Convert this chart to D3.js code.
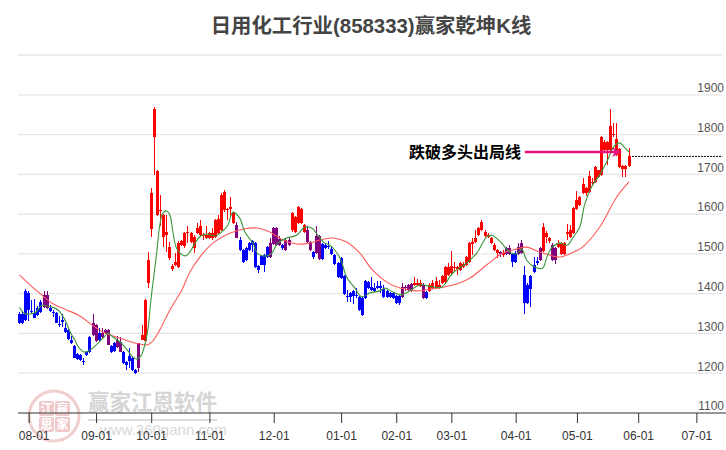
<!DOCTYPE html>
<html lang="zh">
<head>
<meta charset="utf-8">
<title>日用化工行业(858333)赢家乾坤K线</title>
<script src="https://cdnjs.cloudflare.com/ajax/libs/d3/7.8.5/d3.min.js"></script>
<style>
html, body { margin: 0; padding: 0; background: #fff; }
svg { display: block; }
text { font-family: "Liberation Sans", "Noto Sans CJK SC", sans-serif; }
</style>
</head>
<body>
<div id="chart"></div>
<script>
// r = up, b = down, p = purple (flagged) candles
const kind = ("bbbbbbbb" + "pp" + "bbbbbbbbbbbbbb" + "pp" + "b" + "ppp" + "bb" + "pp" + "bbbbb" + "p"
  + "rrrrrrrrrrrrrrrrrrrrrrrrrrrrrrr" + "p" + "bbbbbbbbbb" + "pppp" + "b" + "pp"
  + "rrrrr" + "pp" + "b" + "pp" + "bbbbbbbbbbbbbbbbbbbbbbbbbb" + "pppp" + "rrr" + "p" + "b"
  + "rrrrrrrrrrrrrrrrrrrrrrr" + "p" + "r" + "pp" + "bb" + "pp" + "bbbbb" + "p" + "rrr" + "pp"
  + "rrrrrrrrrrrrrrrrrrrrrrrr").split("");
const bodyTop = [1349,1349,1407,1402,1356,1351,1364,1379,1397,1397,1364,1354,1351,1324,1334,1314,1309,1283,1268,1248,1246,1231,1253,1291,1326,1321,1301,1301,1309,1309,
  1268,1276,1283,1278,1253,1228,1243,1238,1208,1276,1296,1384,1484,1653,1864,1708,1610,1598,1555,1517,1469,1479,1527,1532,1552,1555,1552,1542,1565,1570,
  1547,1547,1552,1552,1585,1587,1648,1655,1613,1618,1603,1572,1535,1510,1515,1527,1532,1527,1469,1495,1497,1517,1527,1565,1565,1537,1522,1535,1535,1603,
  1593,1618,1613,1572,1560,1530,1505,1545,1545,1525,1522,1520,1512,1497,1477,1490,1444,1394,1402,1407,1397,1392,1389,1432,1429,1417,1414,1419,1419,1412,
  1407,1402,1402,1394,1394,1417,1417,1422,1424,1427,1427,1427,1422,1404,1422,1427,1432,1422,1444,1467,1467,1469,1467,1467,1477,1474,1492,1527,1530,1540,
  1565,1580,1555,1547,1540,1522,1510,1505,1502,1515,1515,1500,1502,1517,1527,1447,1422,1444,1472,1482,1515,1567,1552,1540,1522,1515,1527,1527,1527,1555,
  1560,1615,1635,1643,1675,1665,1695,1680,1718,1711,1794,1781,1781,1821,1801,1789,1763,1721,1721,1746];
const bodyBottom = [1326,1326,1334,1359,1354,1339,1346,1354,1366,1364,1356,1351,1326,1321,1329,1304,1286,1276,1238,1236,1233,1228,1246,1253,1296,1281,1283,1291,1301,1271,
  1253,1256,1266,1253,1226,1221,1231,1208,1201,1213,1283,1281,1427,1562,1794,1598,1608,1542,1547,1490,1462,1472,1467,1522,1520,1552,1530,1515,1552,1547,
  1545,1540,1540,1540,1542,1552,1560,1610,1610,1613,1577,1540,1510,1479,1484,1510,1522,1467,1459,1472,1472,1492,1492,1525,1522,1522,1515,1510,1522,1560,
  1555,1577,1577,1555,1530,1510,1492,1502,1487,1487,1515,1517,1500,1474,1442,1439,1399,1392,1392,1394,1394,1359,1346,1389,1414,1409,1407,1414,1414,1392,
  1392,1392,1389,1376,1376,1392,1414,1409,1407,1422,1422,1419,1389,1389,1407,1414,1414,1414,1427,1429,1447,1452,1464,1462,1459,1467,1472,1479,1525,1530,
  1547,1560,1545,1542,1527,1510,1502,1500,1497,1500,1500,1479,1479,1500,1502,1376,1376,1412,1454,1477,1484,1507,1542,1532,1484,1484,1517,1500,1500,1550,
  1542,1552,1613,1623,1653,1653,1655,1677,1680,1693,1698,1761,1761,1761,1799,1748,1718,1713,1713,1721];
const wickHigh = [1354,1354,1412,1407,1384,1386,1369,1384,1407,1407,1371,1359,1354,1344,1349,1326,1311,1294,1271,1251,1248,1238,1256,1294,1349,1324,1314,1314,1311,1311,
  1271,1278,1294,1291,1256,1231,1263,1241,1211,1276,1321,1386,1505,1665,1869,1711,1648,1600,1598,1530,1474,1502,1532,1535,1555,1570,1555,1547,1577,1585,
  1552,1570,1555,1565,1588,1598,1653,1660,1615,1643,1605,1580,1542,1512,1517,1530,1535,1530,1472,1497,1500,1520,1540,1567,1567,1545,1525,1540,1540,1605,
  1595,1620,1615,1575,1570,1532,1507,1570,1547,1527,1527,1532,1517,1500,1479,1492,1447,1409,1404,1409,1414,1394,1391,1434,1432,1442,1427,1432,1432,1422,
  1409,1404,1404,1397,1397,1427,1422,1424,1427,1442,1437,1434,1427,1407,1427,1434,1442,1434,1447,1469,1477,1507,1479,1469,1479,1479,1495,1530,1540,1560,
  1567,1585,1560,1552,1542,1527,1512,1507,1510,1517,1522,1502,1507,1527,1535,1469,1427,1447,1492,1492,1517,1577,1557,1542,1527,1517,1535,1530,1530,1575,
  1572,1618,1658,1645,1690,1667,1708,1690,1720,1711,1796,1786,1783,1864,1829,1829,1766,1723,1723,1766];
const wickLow = [1324,1324,1331,1331,1351,1339,1344,1351,1364,1361,1354,1341,1326,1316,1316,1301,1283,1273,1238,1233,1231,1221,1243,1251,1294,1278,1281,1288,1299,1271,
  1251,1253,1263,1253,1223,1208,1213,1206,1198,1203,1283,1278,1414,1542,1698,1595,1570,1517,1505,1484,1457,1469,1464,1520,1515,1527,1527,1502,1550,1545,
  1535,1537,1537,1535,1540,1550,1557,1605,1585,1593,1575,1540,1507,1477,1482,1507,1505,1464,1452,1472,1454,1490,1490,1522,1520,1520,1510,1507,1520,1555,
  1552,1575,1575,1552,1527,1507,1487,1500,1485,1485,1512,1512,1497,1472,1440,1437,1397,1379,1379,1374,1389,1356,1344,1387,1412,1407,1404,1412,1402,1389,
  1389,1389,1387,1374,1371,1389,1407,1407,1404,1419,1419,1417,1387,1387,1404,1412,1412,1412,1424,1427,1444,1447,1454,1447,1457,1464,1469,1477,1497,1527,
  1545,1557,1542,1540,1525,1507,1490,1492,1492,1497,1497,1467,1477,1497,1500,1349,1374,1366,1452,1472,1482,1505,1527,1527,1482,1474,1515,1497,1497,1535,
  1540,1550,1610,1620,1650,1645,1653,1673,1677,1690,1695,1758,1723,1758,1794,1745,1715,1693,1693,1718];

// fast and slow average lines, read at sparse bars
const greenBar = [0,1.5,3.4,5.4,7.3,9,10.6,12.6,13.9,15.2,16.5,18.1,19.7,21.4,23,25.3,27.6,28.9,30.5,32.1,33.8,35.4,37,38.3,39.6,40.9,41.9,42.9,43.9,44.9,45.8,46.8,48.1,49.1,50.1,51.1,52.4,54.3,55.6,57.3,59.2,61.2,63.8,66,68,69.7,71.9,73.6,76.2,77.8,80.8,82.4,84.3,87.3,90.5,93.1,95.4,97.4,99.6,101.3,104.6,106.8,109.5,111.7,114.4,117.6,119.3,121.9,124.2,126.8,130.7,134.9,137.9,141.5,146,149.3,152.5,154.2,156.8,160,162.3,164,165.6,168.2,170.8,172.1,173.7,176.3,179,180.6,182.9,184.5,187.1,189.4,192,194.2,195.9,197.5,199];
const greenVal = [1366,1351,1349,1354,1371,1369,1366,1359,1346,1329,1304,1283,1261,1253,1258,1273,1291,1301,1291,1283,1271,1256,1241,1236,1243,1271,1309,1384,1447,1510,1572,1603,1608,1598,1555,1517,1502,1495,1505,1527,1545,1550,1545,1555,1572,1605,1590,1555,1527,1500,1495,1502,1527,1540,1547,1567,1565,1547,1527,1522,1490,1442,1414,1392,1402,1407,1414,1404,1397,1404,1422,1417,1417,1452,1477,1502,1542,1547,1532,1505,1500,1512,1484,1467,1464,1490,1515,1527,1522,1540,1567,1623,1673,1698,1736,1771,1779,1768,1756];
const redBar = [0,3.4,7.7,10.6,14.8,19.7,23.7,27.9,32.8,37.7,41.6,43.2,45.8,49.1,53,55.6,58.9,63.1,68.7,72.9,77.5,81.7,86,90.5,94.8,98.1,102.3,106.8,111.1,115.3,119.9,124.2,129.7,134.9,141.5,147,152.5,157.8,162.3,165.6,169.8,176.3,179.6,183.8,189.4,195,199];
const redVal = [1447,1422,1394,1376,1361,1344,1321,1301,1288,1276,1271,1278,1309,1359,1409,1454,1492,1527,1552,1562,1565,1555,1535,1525,1527,1535,1540,1530,1502,1459,1429,1414,1407,1412,1422,1439,1472,1502,1512,1517,1505,1492,1500,1517,1567,1643,1681];

const priceTicks = [1100,1200,1300,1400,1500,1600,1700,1800,1900];
const gridPrices = [1200,1300,1400,1500,1600,1700,1800,1900,2000];
const monthBars = [3,25,43,62,83,105,123,141,162,182,202,221];
const monthLabels = ["08-01","09-01","10-01","11-01","12-01","01-01","02-01","03-01","04-01","05-01","06-01","07-01"];

const titleText = "日用化工行业(858333)赢家乾坤K线";
const noteText = "跌破多头出局线";
const notePrice = 1756, noteFromBar = 165, noteToBar = 196.7;
const lastPrice = 1745, lastFromBar = 200, lastToBar = 229.5;

const width = 726, height = 450;
const axisY = 413;
const colors = { r: "#ff0000", b: "#0000ff", p: "#800080" };

const x = d3.scaleLinear().domain([0, 199]).range([19.5, 629]);
const y = d3.scaleLinear().domain([1100, 2000]).range([axisY, 55]);

const svg = d3.select("#chart").append("svg")
  .attr("width", width).attr("height", height);

// watermark
const wm = svg.append("g").attr("class", "watermark");
wm.append("circle").attr("cx", 54).attr("cy", 416).attr("r", 25)
  .attr("fill", "none").attr("stroke", "#f2cfcf").attr("stroke-width", 3);
[[39,401,"江"],[55,401,"赢"],[39,417,"恩"],[55,417,"家"]].forEach(c => {
  wm.append("rect").attr("x", c[0]).attr("y", c[1]).attr("width", 15).attr("height", 15)
    .attr("rx", 2).attr("fill", "#f0caca");
  wm.append("text").attr("x", c[0] + 7.5).attr("y", c[1] + 12).attr("text-anchor", "middle")
    .attr("font-size", 12).attr("font-weight", "bold").attr("fill", "#fff").text(c[2]);
});
wm.append("text").attr("x", 88).attr("y", 410).attr("font-size", 21.5).attr("font-weight", "bold")
  .attr("fill", "#d5d5d5").text("赢家江恩软件");
wm.append("line").attr("x1", 88).attr("x2", 217).attr("y1", 420).attr("y2", 420)
  .attr("stroke", "#dcdcdc").attr("stroke-width", 2);
wm.append("text").attr("x", 100).attr("y", 435).attr("font-size", 15)
  .attr("fill", "#d8d8d8").text("www.360gann.com");

// grid
svg.append("g").selectAll("line").data(gridPrices).enter().append("line")
  .attr("x1", 18).attr("x2", 722)
  .attr("y1", d => y(d)).attr("y2", d => y(d))
  .attr("stroke", "#e6e6e6").attr("stroke-width", 1.3);

// x axis
const xAxis = d3.axisBottom(x)
  .tickValues(monthBars)
  .tickFormat((d, i) => monthLabels[i])
  .tickSize(10).tickPadding(8);
const xg = svg.append("g").attr("transform", `translate(0,${axisY})`).call(xAxis);
xg.select(".domain").remove();
xg.selectAll("line").attr("stroke", "#333");
xg.selectAll("text").attr("font-size", 12).attr("fill", "#333")
  .attr("font-family", "Liberation Sans");
xg.selectAll("text").filter((d, i) => i === 0).attr("x", 5);
svg.append("line").attr("x1", 18).attr("x2", 726).attr("y1", axisY).attr("y2", axisY)
  .attr("stroke", "#333").attr("stroke-width", 1.2);

// y axis labels, they sit above their gridline
const yAxis = d3.axisRight(y).tickValues(priceTicks).tickFormat(d3.format("d")).tickSize(0).tickPadding(0);
const yg = svg.append("g").attr("transform", "translate(724,-7)").call(yAxis);
yg.select(".domain").remove();
yg.selectAll("text").attr("text-anchor", "end").attr("font-size", 12).attr("fill", "#555")
  .attr("font-family", "Liberation Sans");

// candles
const bars = d3.range(bodyTop.length);
const candle = svg.append("g").attr("shape-rendering", "crispEdges")
  .selectAll("g").data(bars).enter().append("g")
  .attr("fill", i => colors[kind[i]]).attr("stroke", i => colors[kind[i]]);
candle.append("line")
  .attr("x1", i => x(i)).attr("x2", i => x(i))
  .attr("y1", i => y(wickHigh[i])).attr("y2", i => y(wickLow[i]))
  .attr("stroke-width", 1);
candle.append("rect")
  .attr("x", i => x(i) - 1.5).attr("width", 3)
  .attr("y", i => y(bodyTop[i]))
  .attr("height", i => Math.max(1, y(bodyBottom[i]) - y(bodyTop[i])))
  .attr("stroke", "none");

// average lines
const lineOf = (xs, ys) => d3.line()
  .x((d, i) => x(xs[i])).y((d, i) => y(ys[i]))
  .curve(d3.curveCatmullRom.alpha(0.5))(xs);
svg.append("path").attr("d", lineOf(redBar, redVal))
  .attr("fill", "none").attr("stroke", "#ff5a5a").attr("stroke-width", 1.1);
svg.append("path").attr("d", lineOf(greenBar, greenVal))
  .attr("fill", "none").attr("stroke", "#3a963a").attr("stroke-width", 1.1);

// last price line
svg.append("line").attr("x1", x(lastFromBar)).attr("x2", x(lastToBar))
  .attr("y1", y(lastPrice)).attr("y2", y(lastPrice))
  .attr("stroke", "#000").attr("stroke-width", 1).attr("stroke-dasharray", "2 1");

// annotation
const noteY = y(notePrice);
svg.append("text").attr("x", 409).attr("y", noteY + 6)
  .attr("font-size", 16).attr("font-weight", "bold").attr("fill", "#000").text(noteText);
svg.append("line").attr("x1", x(noteFromBar)).attr("x2", x(noteToBar) - 6)
  .attr("y1", noteY).attr("y2", noteY)
  .attr("stroke", "#e8127f").attr("stroke-width", 2.6);
const tip = x(noteToBar);
svg.append("path")
  .attr("d", `M${tip},${noteY}L${tip - 10},${noteY - 5}L${tip - 7},${noteY}L${tip - 10},${noteY + 5}Z`)
  .attr("fill", "#e8127f");

// title
svg.append("text").attr("x", 371).attr("y", 33).attr("text-anchor", "middle")
  .attr("font-size", 20.4).attr("font-weight", "bold").attr("fill", "#444").text(titleText);
</script>
</body>
</html>
